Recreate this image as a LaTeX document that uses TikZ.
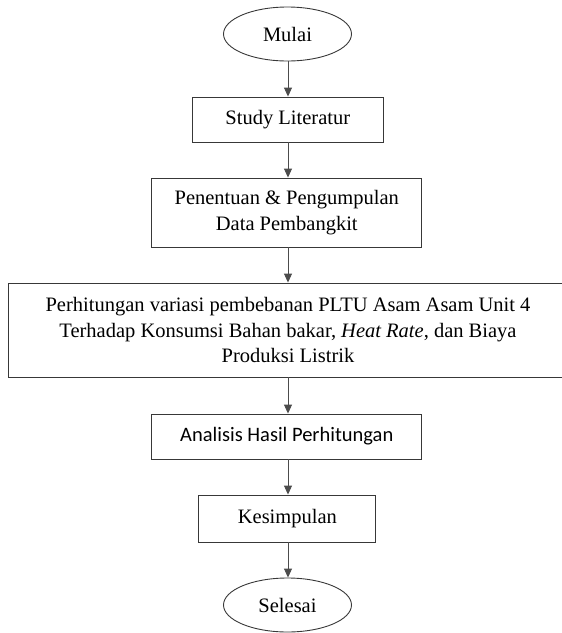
\documentclass[tikz,border=0pt]{standalone}
\usepackage{fontspec}
\setmainfont{Liberation Serif}
\newfontfamily\calibrifont{Carlito}
\usetikzlibrary{shapes.geometric,arrows.meta}
\tikzset{
  boxline/.style={draw=black!78, line width=0.9pt},
  procbox/.style={boxline, rectangle, inner sep=0pt, align=center,
    font=\fontsize{20.5}{25.5}\selectfont, text=black},
  termnode/.style={boxline, ellipse, inner sep=0pt, align=center,
    font=\fontsize{20.5}{25.5}\selectfont, text=black},
  flowarrow/.style={draw=black!70, line width=0.9pt,
    -{Triangle[width=8pt,length=9pt]}, shorten >=0pt}
}
\begin{document}
\begin{tikzpicture}[x=1pt,y=-1pt]
\useasboundingbox (0,0) rectangle (562,633);
\node[termnode, minimum width=128pt, minimum height=54pt] (mulai) at (287.5,34) {Mulai};
\node[procbox, minimum width=191pt, minimum height=45pt] (study) at (287.8,119.5) {Study Literatur};
\node[procbox, minimum width=270pt, minimum height=69pt] (data) at (286.8,212.5) {Penentuan \& Pengumpulan\\Data Pembangkit};
\node[procbox, minimum width=560pt, minimum height=94pt] (hitung) at (288,330) {Perhitungan variasi pembebanan PLTU Asam Asam Unit 4\\Terhadap Konsumsi Bahan bakar, \textit{Heat Rate}, dan Biaya\\Produksi Listrik};
\node[procbox, minimum width=270pt, minimum height=45pt, font=\calibrifont\fontsize{20.5}{25.5}\selectfont] (analisis) at (286.8,436.5) {Analisis Hasil Perhitungan};
\node[procbox, minimum width=177pt, minimum height=47pt] (kesimpulan) at (287.4,518.5) {Kesimpulan};
\node[termnode, minimum width=128pt, minimum height=54pt] (selesai) at (287.5,605) {Selesai};
\draw[flowarrow] (mulai.south -| 288,0) -- (study.north -| 288,0);
\draw[flowarrow] (study.south -| 288,0) -- (data.north -| 288,0);
\draw[flowarrow] (data.south -| 288,0) -- (hitung.north -| 288,0);
\draw[flowarrow] (hitung.south -| 288,0) -- (analisis.north -| 288,0);
\draw[flowarrow] (analisis.south -| 288,0) -- (kesimpulan.north -| 288,0);
\draw[flowarrow] (kesimpulan.south -| 288,0) -- (selesai.north -| 288,0);
\end{tikzpicture}
\end{document}
